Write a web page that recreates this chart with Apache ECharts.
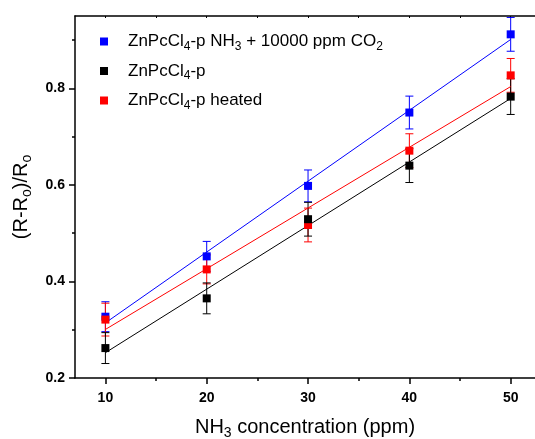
<!DOCTYPE html>
<html>
<head>
  <meta charset="UTF-8">
  <title>sensor response</title>
  <style>
  html, body { margin: 0; padding: 0; background: #fff; }
  #chart { width: 535px; height: 439px; }
  </style>
  <script src="https://cdn.jsdelivr.net/npm/echarts@6/dist/echarts.min.js"></script>
</head>
<body>
  <div id="chart"></div>
  <script type="text/javascript">
  // concentrations (ppm)
  var xValues = [10, 20, 30, 40, 50];
  // ZnPcCl4-p NH3 + 10000 ppm CO2
  var blueY = [0.327, 0.452, 0.598, 0.750, 0.912];
  var blueErr = [0.031, 0.031, 0.033, 0.034, 0.035];
  // ZnPcCl4-p
  var blackY = [0.262, 0.365, 0.529, 0.640, 0.783];
  var blackErr = [0.032, 0.032, 0.035, 0.035, 0.037];
  // ZnPcCl4-p heated
  var redY = [0.321, 0.425, 0.517, 0.671, 0.827];
  var redErr = [0.034, 0.030, 0.035, 0.035, 0.035];

  var xTicks = [10, 20, 30, 40, 50];
  var xMinor = [15, 25, 35, 45];
  var yMinor = [0.3, 0.5, 0.7, 0.9];

  var FONT = 'Liberation Sans, Arial, sans-serif';

  // least squares line across the measured range
  function fitLine(xs, ys) {
    var n = xs.length, sx = 0, sy = 0, sxx = 0, sxy = 0;
    for (var i = 0; i < n; i++) {
      sx += xs[i]; sy += ys[i];
      sxx += xs[i] * xs[i]; sxy += xs[i] * ys[i];
    }
    var b = (n * sxy - sx * sy) / (n * sxx - sx * sx);
    var a = (sy - b * sx) / n;
    var x0 = xs[0], x1 = xs[n - 1];
    return [[x0, a + b * x0], [x1, a + b * x1]];
  }

  function pts(ys) {
    return xValues.map(function(x, i) { return [x, ys[i]]; });
  }
  function errPts(ys, es) {
    return xValues.map(function(x, i) { return [x, ys[i], es[i]]; });
  }

  function renderError(params, api) {
    var x = api.value(0), y = api.value(1), e = api.value(2);
    var hi = api.coord([x, y + e]);
    var lo = api.coord([x, y - e]);
    var w = 4;
    var st = { stroke: api.visual('color'), lineWidth: 1 };
    return {
      type: 'group',
      children: [
        { type: 'line', shape: { x1: hi[0], y1: hi[1], x2: lo[0], y2: lo[1] }, style: st },
        { type: 'line', shape: { x1: hi[0] - w, y1: hi[1], x2: hi[0] + w, y2: hi[1] }, style: st },
        { type: 'line', shape: { x1: lo[0] - w, y1: lo[1], x2: lo[0] + w, y2: lo[1] }, style: st }
      ]
    };
  }

  var names = ['blue', 'black', 'red'];
  var legendText = {
    blue: '{n|ZnPcCl}{s|4}{n|-p NH}{s|3}{n| + 10000 ppm CO}{s|2}',
    black: '{n|ZnPcCl}{s|4}{n|-p}',
    red: '{n|ZnPcCl}{s|4}{n|-p heated}'
  };
  var colors = { blue: '#0000ff', black: '#000000', red: '#ff0000' };
  var dataY = { blue: blueY, black: blackY, red: redY };
  var dataE = { blue: blueErr, black: blackErr, red: redErr };

  var series = [];
  names.forEach(function(k) {
    series.push({
      name: k + '-fit', type: 'line', data: fitLine(xValues, dataY[k]),
      showSymbol: false, silent: true,
      lineStyle: { color: colors[k], width: 1 }, itemStyle: { color: colors[k] }
    });
  });
  ['blue', 'red', 'black'].forEach(function(k) {
    series.push({
      name: k + '-err', type: 'custom', renderItem: renderError,
      data: errPts(dataY[k], dataE[k]), itemStyle: { color: colors[k] }, z: 3
    });
    series.push({
      name: k, type: 'scatter', data: pts(dataY[k]), symbol: 'rect', symbolSize: 8,
      itemStyle: { color: colors[k], opacity: 1 }, z: 4
    });
  });

  var axisLine = { show: true, lineStyle: { color: '#000', width: 1.5 } };
  var hiddenLine = { show: true, lineStyle: { color: '#000', width: 1.5, opacity: 0 } };
  var labelStyle = { color: '#000', fontSize: 14, fontWeight: 'bold', fontFamily: FONT };
  var tickStyle = { color: '#000', width: 1.5 };
  var nameRich = {
    n: { fontSize: 20, lineHeight: 26, fontFamily: FONT, color: '#000' },
    s: { fontSize: 14, lineHeight: 14, verticalAlign: 'bottom', fontFamily: FONT, color: '#000' }
  };

  var myChart = echarts.init(document.getElementById('chart'));
  var option = {
    animation: false,
    grid: { left: 75, right: 0, top: 16, bottom: 61, outerBoundsMode: 'none' },
    legend: {
      data: names,
      orient: 'vertical',
      left: 100, top: 33, padding: 0,
      icon: 'rect', itemWidth: 8, itemHeight: 8, itemGap: 10,
      formatter: function(name) { return legendText[name]; },
      textStyle: {
        color: '#000', fontFamily: FONT, padding: [0, 0, 0, 15],
        rich: {
          n: { fontSize: 17, lineHeight: 22, fontFamily: FONT, color: '#000' },
          s: { fontSize: 12, lineHeight: 12, verticalAlign: 'bottom', fontFamily: FONT, color: '#000' }
        }
      }
    },
    xAxis: [{
      type: 'value', min: 7, max: 52.4, position: 'bottom',
      axisLine: axisLine,
      axisTick: { show: true, customValues: xTicks, length: 6, lineStyle: tickStyle },
      axisLabel: Object.assign({ customValues: xTicks, margin: 13 }, labelStyle),
      splitLine: { show: false },
      name: '{n|NH}{s|3}{n| concentration (ppm)}',
      nameLocation: 'middle', nameGap: 36,
      nameTextStyle: { rich: nameRich }
    }, {
      type: 'value', min: 7, max: 52.4, position: 'bottom',
      axisLine: hiddenLine,
      axisTick: { show: true, customValues: xMinor, length: 3, lineStyle: tickStyle },
      axisLabel: { show: false, customValues: xMinor },
      splitLine: { show: false }
    }, {
      type: 'value', min: 7, max: 52.4, position: 'top',
      axisLine: axisLine,
      axisTick: { show: true, inside: true, customValues: xMinor.concat(xTicks), length: 2, lineStyle: { color: '#000', width: 1 } },
      axisLabel: { show: false, customValues: xMinor.concat(xTicks) },
      splitLine: { show: false }
    }],
    yAxis: [{
      type: 'value', min: 0.2, max: 0.95, interval: 0.2, position: 'left',
      axisLine: axisLine,
      axisTick: { show: true, length: 6, lineStyle: tickStyle },
      axisLabel: Object.assign({ margin: 10, showMaxLabel: false, formatter: function(v) { return v.toFixed(1); } }, labelStyle),
      splitLine: { show: false },
      name: '{n|(R-R}{s|o}{n|)/R}{s|o}',
      nameLocation: 'middle', nameGap: 35, nameRotate: 90,
      nameTextStyle: { rich: nameRich }
    }, {
      type: 'value', min: 0.2, max: 0.95, position: 'left',
      axisLine: hiddenLine,
      axisTick: { show: true, customValues: yMinor, length: 3, lineStyle: tickStyle },
      axisLabel: { show: false, customValues: yMinor },
      splitLine: { show: false }
    }],
    series: series
  };
  myChart.setOption(option);
  </script>
</body>
</html>
